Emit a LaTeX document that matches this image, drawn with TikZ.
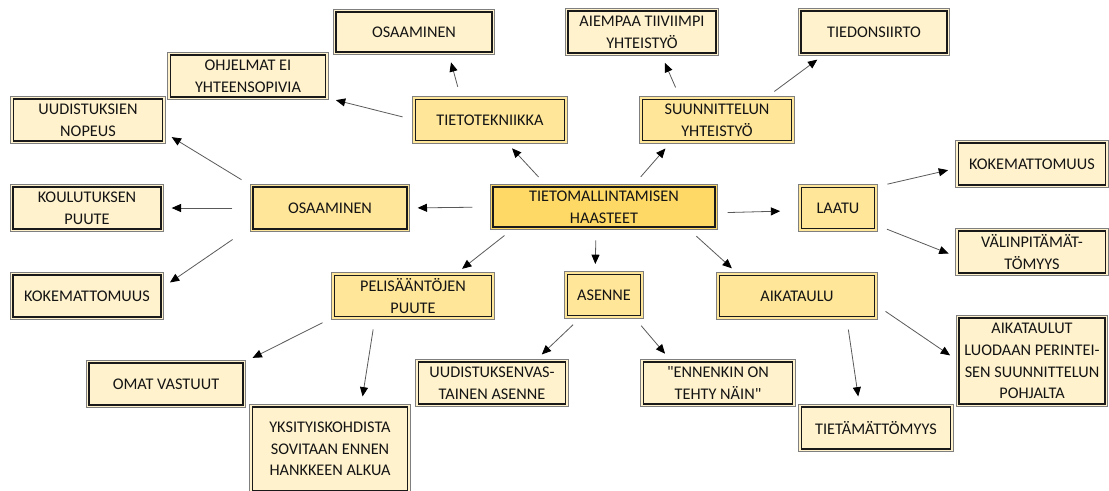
\documentclass[tikz,border=0pt]{standalone}
\usepackage{fontspec}
\setmainfont{Carlito}
\usepackage{xcolor}
\usetikzlibrary{arrows.meta}

\definecolor{keskus}{HTML}{FFD966}
\definecolor{taso1}{HTML}{FFE699}
\definecolor{taso2}{HTML}{FFF2CC}
\definecolor{reuna}{HTML}{7F7F7F}

\tikzset{
  laatikko/.style={draw=black!90, line width=1pt, fill=#1, align=center,
    text=black!92, font=\fontsize{12.2}{16.3}\selectfont, inner sep=1pt,
    preaction={draw=reuna, line width=5pt},
    preaction={draw=#1, line width=3.4pt}},
  paa/.style={laatikko=keskus, minimum width=166.5pt, minimum height=30pt},
  aihe/.style={laatikko=taso1, minimum width=116pt, minimum height=30.5pt},
  ala/.style={laatikko=taso2, minimum width=111pt, minimum height=31.5pt},
  nuoli/.style={draw=black!65, line width=0.6pt,
    -{Triangle[length=7pt,width=6pt,color=black]},
    shorten <=9.5pt, shorten >=7.5pt}
}

\begin{document}
\begin{tikzpicture}[x=0.75pt, y=-0.75pt]
\useasboundingbox (0,0) rectangle (1109,490);

% ========= Keskus =========
\node[paa] (c) at (604,207) {TIETOMALLINTAMISEN\\HAASTEET};

% ========= Ensimmäinen taso =========
\node[aihe, minimum width=115.5pt, minimum height=31.5pt] (osa1) at (330,208) {OSAAMINEN};
\node[aihe, minimum width=111.75pt] (tt) at (490,120) {TIETOTEKNIIKKA};
\node[aihe, minimum width=111.75pt] (sy) at (717,120) {SUUNNITTELUN\\YHTEISTYÖ};
\node[aihe, minimum width=54.75pt] (laatu) at (838,208) {LAATU};
\node[aihe, minimum width=117.75pt] (pel) at (413,296) {PELISÄÄNTÖJEN\\PUUTE};
\node[aihe, minimum width=54.75pt] (asenne) at (604,295) {ASENNE};
\node[aihe] (aika) at (797,296) {AIKATAULU};

% ========= Ylhäällä =========
\node[ala, minimum width=117pt, minimum height=30pt] (osa2) at (414,32) {OSAAMINEN};
\node[ala, minimum width=116.25pt] (ohj) at (248,76) {OHJELMAT EI\\YHTEENSOPIVIA};
\node[ala] (aie) at (642,32) {AIEMPAA TIIVIIMPI\\YHTEISTYÖ};
\node[ala, minimum width=109.5pt] (tied) at (874,32) {TIEDONSIIRTO};

% ========= Vasemmalla =========
\node[ala, minimum width=111.75pt] (uud) at (88,120) {UUDISTUKSIEN\\NOPEUS};
\node[ala] (kou) at (87,208) {KOULUTUKSEN\\PUUTE};
\node[ala] (kok1) at (87,296) {KOKEMATTOMUUS};

% ========= Oikealla =========
\node[ala, minimum width=110.25pt] (kok2) at (1032,164) {KOKEMATTOMUUS};
\node[ala, minimum width=110.25pt] (val) at (1032,252) {VÄLINPITÄMÄT-\\TÖMYYS};
\node[ala, minimum width=109.5pt, minimum height=64.5pt] (aikat) at (1032,361)
  {AIKATAULUT\\LUODAAN PERINTEI-\\SEN SUUNNITTELUN\\POHJALTA};

% ========= Alhaalla =========
\node[ala, minimum width=115.5pt] (omat) at (166,384) {OMAT VASTUUT};
\node[ala, minimum width=116.25pt, minimum height=63pt] (yks) at (330,449)
  {YKSITYISKOHDISTA\\SOVITAAN ENNEN\\HANKKEEN ALKUA};
\node[ala, minimum width=110.25pt] (uvast) at (492,383) {UUDISTUKSENVAS-\\TAINEN ASENNE};
\node[ala, minimum width=111.75pt] (enn) at (718,383)
  {\textquotedbl ENNENKIN ON\\TEHTY NÄIN\textquotedbl};
\node[ala, minimum width=111.75pt] (tiet) at (876,428) {TIETÄMÄTTÖMYYS};

% ========= Nuolet =========
\draw[nuoli] (c.160) -- (tt.-54);
\draw[nuoli] (c.36) -- (sy.205);
\draw[nuoli, shorten <=15pt] (c.west) -- (osa1.east);
\draw[nuoli, shorten <=9pt, shorten >=15.5pt] (c.-3) -- (laatu.184);
\draw[nuoli] (c.193) -- (pel.27);
\draw[nuoli] (c.-111) -- (asenne.113);
\draw[nuoli] (c.-14) -- (aika.160);

\draw[nuoli] (tt.144) -- (osa2.-31);
\draw[nuoli] (tt.west) -- (ohj.south east);
\draw[nuoli] (sy.150) -- (aie.-49);
\draw[nuoli] (sy.24) -- (tied.-156);

\draw[nuoli] (osa1.north west) -- (uud.-9);
\draw[nuoli, shorten <=15pt] (osa1.west) -- (kou.east);
\draw[nuoli, shorten <=18pt] (osa1.193) -- (kok1.6);

\draw[nuoli] (laatu.north east) -- (kok2.183);
\draw[nuoli] (laatu.-24) -- (val.184);

\draw[nuoli] (pel.south west) -- (omat.north east);
\draw[nuoli] (pel.-151) -- (yks.54);
\draw[nuoli] (asenne.-136) -- (uvast.27);
\draw[nuoli] (asenne.-36) -- (enn.155);
\draw[nuoli] (aika.-23) -- (tiet.127);
\draw[nuoli] (aika.-6) -- (aikat.west);
\end{tikzpicture}
\end{document}
